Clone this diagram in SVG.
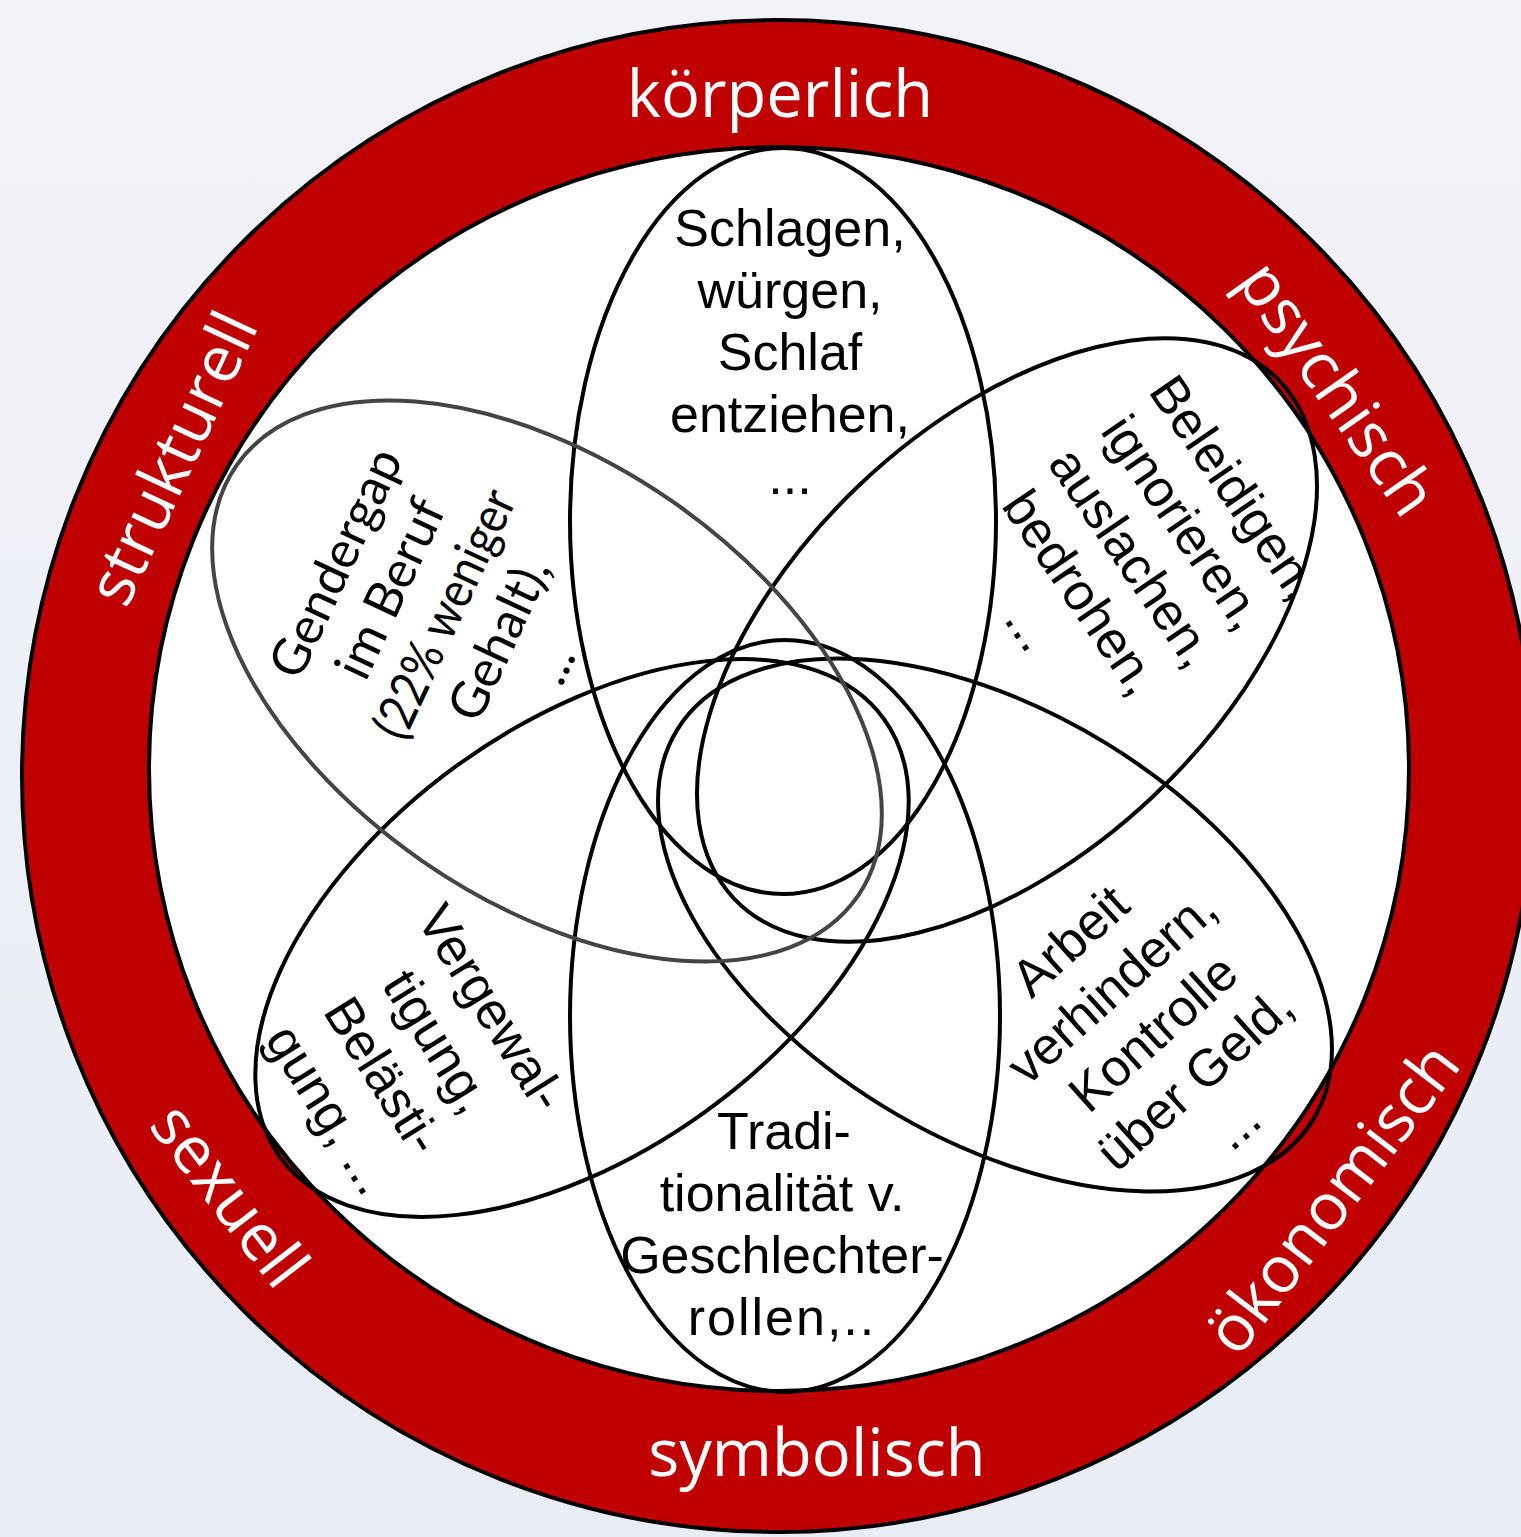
<svg xmlns="http://www.w3.org/2000/svg" width="1521" height="1537" viewBox="0 0 1521 1537">
  <defs>
    <linearGradient id="bg" x1="0" y1="0" x2="0" y2="1">
      <stop offset="0" stop-color="#f2f3f8"/>
      <stop offset="1" stop-color="#e8ecf5"/>
    </linearGradient>
  </defs>
  <style>
    .ring-label { font-family: "Open Sans", "Noto Sans", sans-serif; font-size: 65px; fill: #ffffff; text-anchor: middle; }
    .txt { font-family: "Liberation Sans", Arial, sans-serif; font-size: 52px; fill: #000000; text-anchor: middle; }
    .txt2 { font-family: Lato, "Liberation Sans", sans-serif; font-size: 51px; fill: #000000; text-anchor: middle; }
    .ell { fill: none; stroke: #000000; stroke-width: 4; }
    .ell-gray { fill: none; stroke: #444444; stroke-width: 4; }
  </style>
  <rect x="0" y="0" width="1521" height="1537" fill="url(#bg)"/>

  <g id="ring">
    <circle cx="778" cy="776" r="756" fill="#c00000" stroke="#000000" stroke-width="4"/>
    <ellipse cx="779" cy="769" rx="630" ry="622" fill="#ffffff" stroke="#000000" stroke-width="4"/>
    <text class="ring-label" x="780" y="117">körperlich</text>
    <text class="ring-label" x="817" y="1476">symbolisch</text>
    <text class="ring-label" transform="translate(1338,388) rotate(55)" y="23">psychisch</text>
    <text class="ring-label" transform="translate(1332,1198) rotate(-52.6)" y="23">ökonomisch</text>
    <text class="ring-label" transform="translate(230,1195) rotate(52.5)" y="23">sexuell</text>
    <text class="ring-label" transform="translate(172,458) rotate(-65)" y="23">strukturell</text>
  </g>

  <g id="koerperlich">
    <ellipse class="ell" cx="783" cy="521" rx="213" ry="373"/>
    <text class="txt" x="790" y="246">Schlagen,</text>
    <text class="txt" x="790" y="308">würgen,</text>
    <text class="txt" x="790" y="370">Schlaf</text>
    <text class="txt" x="790" y="432">entziehen,</text>
    <text class="txt" x="790" y="494">...</text>
  </g>

  <g id="psychisch">
    <ellipse class="ell" cx="0" cy="0" rx="376" ry="214" transform="translate(1007,640) rotate(-43.5)"/>
    <g transform="translate(1130,559) rotate(55.7)">
      <text class="txt" x="0" y="-109">Beleidigen,</text>
      <text class="txt" x="0" y="-47">ignorieren,</text>
      <text class="txt" x="0" y="15">auslachen,</text>
      <text class="txt" x="0" y="77">bedrohen,</text>
      <text class="txt" x="0" y="139">...</text>
    </g>
  </g>

  <g id="oekonomisch">
    <ellipse class="ell" cx="0" cy="0" rx="373" ry="213" transform="translate(995,925) rotate(31.5)"/>
    <g transform="translate(1155,1035) rotate(-42)">
      <text class="txt" x="0" y="-109">Arbeit</text>
      <text class="txt" x="0" y="-47">verhindern,</text>
      <text class="txt" x="0" y="15">Kontrolle</text>
      <text class="txt" x="0" y="77">über Geld,</text>
      <text class="txt" x="0" y="139">...</text>
    </g>
  </g>

  <g id="symbolisch">
    <ellipse class="ell" cx="785" cy="1016" rx="215" ry="376"/>
    <text class="txt" x="784" y="1149">Tradi-</text>
    <text class="txt" x="782" y="1211">tionalität v.</text>
    <text class="txt" x="782" y="1273">Geschlechter-</text>
    <text class="txt" x="782" y="1335" letter-spacing="2">rollen,..</text>
  </g>

  <g id="sexuell">
    <ellipse class="ell" cx="0" cy="0" rx="373" ry="213" transform="translate(582,938) rotate(-36)"/>
    <g transform="translate(408,1060) rotate(58)">
      <text class="txt" x="0" y="-81">Vergewal-</text>
      <text class="txt" x="0" y="-17">tigung,</text>
      <text class="txt" x="0" y="47">Belästi-</text>
      <text class="txt" x="0" y="111">gung, ...</text>
    </g>
  </g>

  <g id="strukturell">
    <ellipse class="ell-gray" cx="0" cy="0" rx="378" ry="219" transform="translate(547,681) rotate(34.7)"/>
    <g transform="translate(445,614) rotate(-65)">
      <text class="txt2" x="0" y="-103">Gendergap</text>
      <text class="txt2" x="0" y="-43">im Beruf</text>
      <text class="txt2" x="0" y="17" textLength="268" lengthAdjust="spacingAndGlyphs">(22% weniger</text>
      <text class="txt2" x="0" y="77">Gehalt),</text>
      <text class="txt2" x="0" y="137">...</text>
    </g>
  </g>
</svg>
